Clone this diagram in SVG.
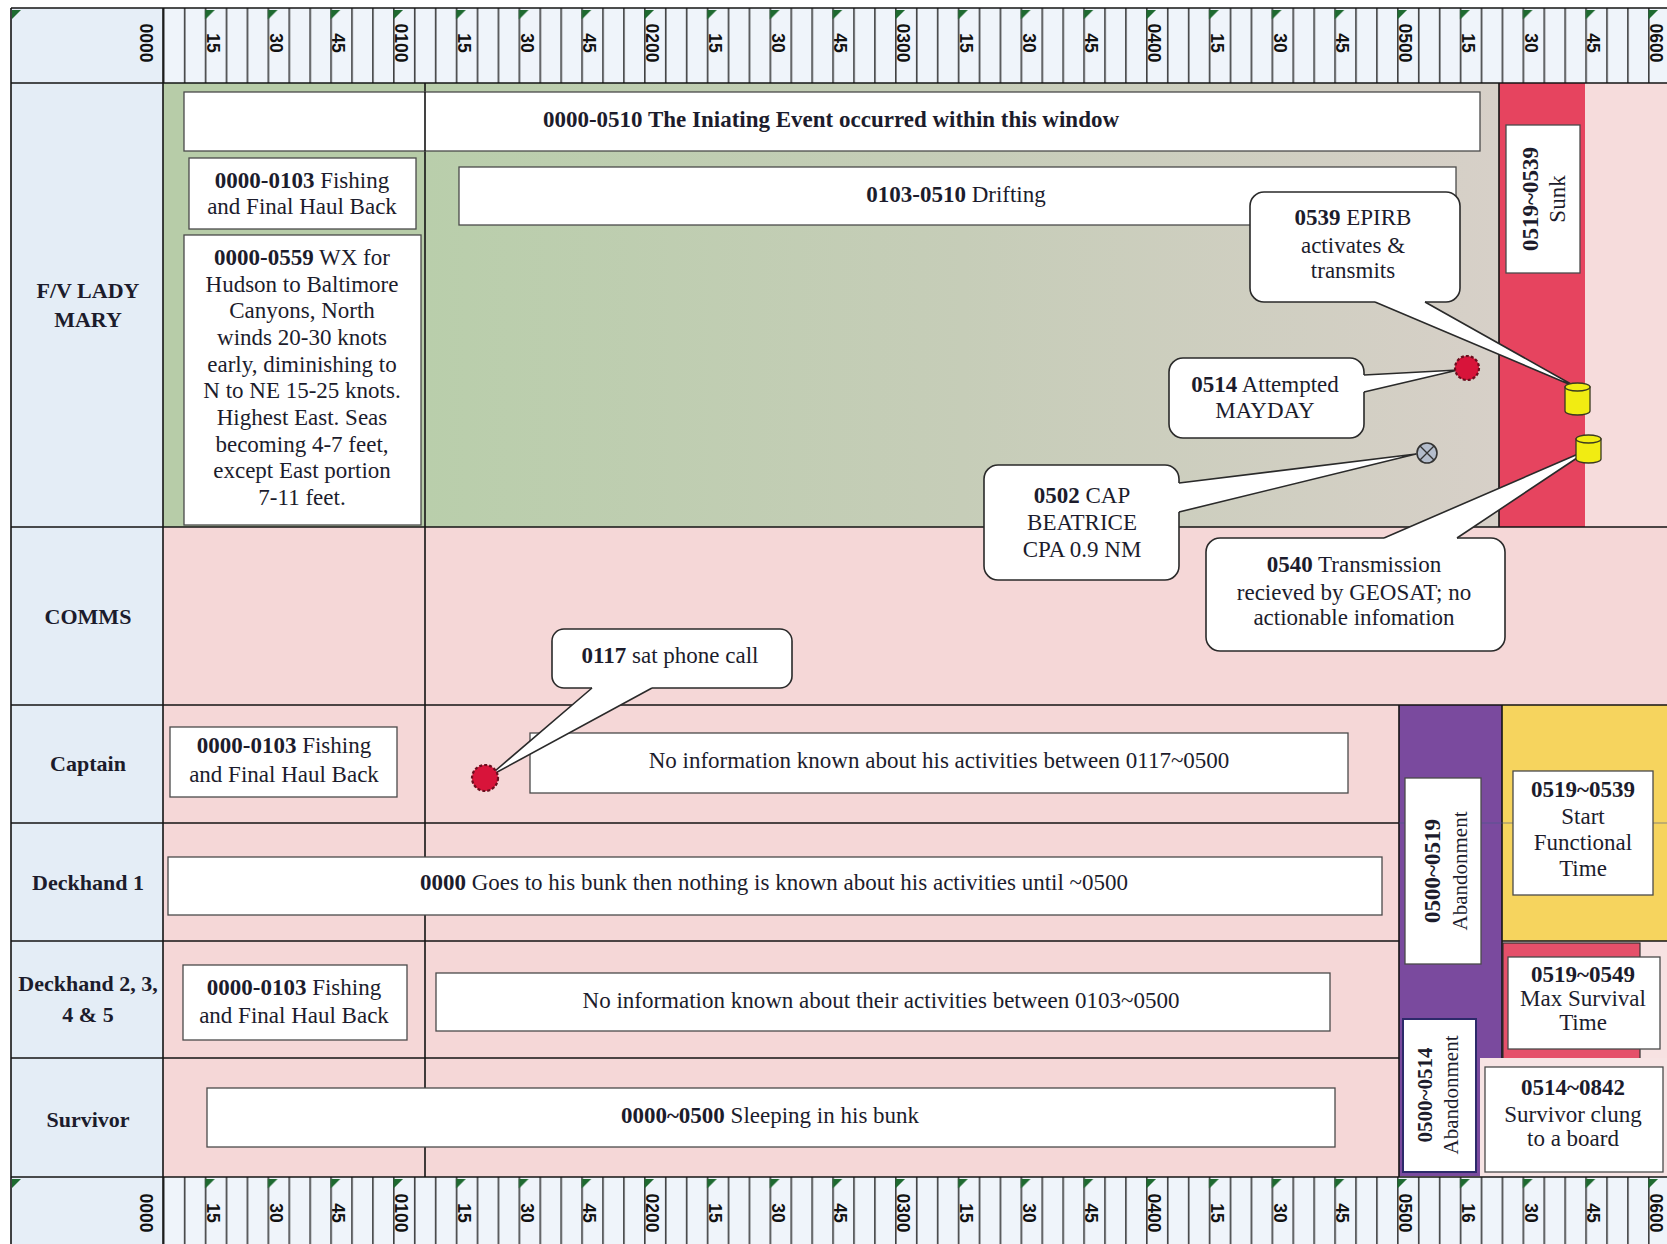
<svg xmlns="http://www.w3.org/2000/svg" width="1667" height="1244" viewBox="0 0 1667 1244">
<defs>
<style>
.t{font-family:"Liberation Serif","Times New Roman",serif;font-size:23px;fill:#1c1c2c;text-anchor:middle}
.s21{font-size:21px}
.b{font-weight:bold}
.lbl{font-family:"Liberation Serif","Times New Roman",serif;font-size:22px;font-weight:bold;fill:#1c1c2c;text-anchor:middle}
.rl{font-family:"Liberation Sans",Arial,sans-serif;font-size:17.5px;font-weight:bold;fill:#111;text-anchor:middle}
.box{fill:#fff;stroke:#4a4a4a;stroke-width:1.3}
.co{fill:#fff;stroke:#2a2a2a;stroke-width:1.6}
.tf{fill:#fff;stroke:none}
.tl{fill:none;stroke:#2a2a2a;stroke-width:1.6;stroke-linejoin:round}
.grid{stroke:#151515;stroke-width:1.6;fill:none}
.flag{fill:#1e6a30}
.cyl{fill:#f1ec12;stroke:#3a3a20;stroke-width:1.3}
.dot{fill:#d8143a;stroke:#6b0f1f;stroke-width:2.2;stroke-dasharray:3 2}
</style>
<pattern id="tickP" patternUnits="userSpaceOnUse" x="142" y="0" width="20.9167" height="20"><rect x="0.2" y="0" width="1.3" height="20" fill="#141414"/></pattern>
<pattern id="flagP" patternUnits="userSpaceOnUse" x="142" y="0" width="62.75" height="1244"><polygon points="0.5,10 10,10 0.5,19.5" class="flag"/><polygon points="0.5,1179 10,1179 0.5,1188.5" class="flag"/></pattern>
<linearGradient id="fvGrad" x1="0" y1="0" x2="1" y2="0"><stop offset="0" stop-color="#b9ceab"/><stop offset="0.5" stop-color="#c6cdb8"/><stop offset="1" stop-color="#d7d0c8"/></linearGradient>
</defs>

<rect x="0" y="0" width="1667" height="1244" fill="#ffffff"/>

<g id="ruler-top">
<rect x="11" y="8" width="1656" height="75" fill="#eff4fa"/>
<rect x="11" y="8" width="152" height="75" fill="#e6eef7"/>
<rect x="162.5" y="8" width="1504.5" height="75" fill="url(#tickP)"/>
<rect x="162.5" y="9" width="1504.5" height="12" fill="url(#flagP)"/>
<polygon points="12,10 21,10 12,19" class="flag"/>
<text class="rl" transform="translate(140,43) rotate(90)">0000</text>
<text class="rl" transform="translate(206.75,43) rotate(90)">15</text>
<text class="rl" transform="translate(269.5,43) rotate(90)">30</text>
<text class="rl" transform="translate(332.25,43) rotate(90)">45</text>
<text class="rl" transform="translate(395,43) rotate(90)">0100</text>
<text class="rl" transform="translate(457.75,43) rotate(90)">15</text>
<text class="rl" transform="translate(520.5,43) rotate(90)">30</text>
<text class="rl" transform="translate(583.25,43) rotate(90)">45</text>
<text class="rl" transform="translate(646,43) rotate(90)">0200</text>
<text class="rl" transform="translate(708.75,43) rotate(90)">15</text>
<text class="rl" transform="translate(771.5,43) rotate(90)">30</text>
<text class="rl" transform="translate(834.25,43) rotate(90)">45</text>
<text class="rl" transform="translate(897,43) rotate(90)">0300</text>
<text class="rl" transform="translate(959.75,43) rotate(90)">15</text>
<text class="rl" transform="translate(1022.5,43) rotate(90)">30</text>
<text class="rl" transform="translate(1085.25,43) rotate(90)">45</text>
<text class="rl" transform="translate(1148,43) rotate(90)">0400</text>
<text class="rl" transform="translate(1210.75,43) rotate(90)">15</text>
<text class="rl" transform="translate(1273.5,43) rotate(90)">30</text>
<text class="rl" transform="translate(1336.25,43) rotate(90)">45</text>
<text class="rl" transform="translate(1399,43) rotate(90)">0500</text>
<text class="rl" transform="translate(1461.75,43) rotate(90)">15</text>
<text class="rl" transform="translate(1524.5,43) rotate(90)">30</text>
<text class="rl" transform="translate(1587.25,43) rotate(90)">45</text>
<text class="rl" transform="translate(1650,43) rotate(90)">0600</text>
</g>

<g id="ruler-bottom">
<rect x="11" y="1177" width="1656" height="67" fill="#eff4fa"/>
<rect x="11" y="1177" width="152" height="67" fill="#e6eef7"/>
<rect x="162.5" y="1177" width="1504.5" height="67" fill="url(#tickP)"/>
<rect x="162.5" y="1178" width="1504.5" height="12" fill="url(#flagP)"/>
<polygon points="12,1179 21,1179 12,1188" class="flag"/>
<text class="rl" transform="translate(140,1213) rotate(90)">0000</text>
<text class="rl" transform="translate(206.75,1213) rotate(90)">15</text>
<text class="rl" transform="translate(269.5,1213) rotate(90)">30</text>
<text class="rl" transform="translate(332.25,1213) rotate(90)">45</text>
<text class="rl" transform="translate(395,1213) rotate(90)">0100</text>
<text class="rl" transform="translate(457.75,1213) rotate(90)">15</text>
<text class="rl" transform="translate(520.5,1213) rotate(90)">30</text>
<text class="rl" transform="translate(583.25,1213) rotate(90)">45</text>
<text class="rl" transform="translate(646,1213) rotate(90)">0200</text>
<text class="rl" transform="translate(708.75,1213) rotate(90)">15</text>
<text class="rl" transform="translate(771.5,1213) rotate(90)">30</text>
<text class="rl" transform="translate(834.25,1213) rotate(90)">45</text>
<text class="rl" transform="translate(897,1213) rotate(90)">0300</text>
<text class="rl" transform="translate(959.75,1213) rotate(90)">15</text>
<text class="rl" transform="translate(1022.5,1213) rotate(90)">30</text>
<text class="rl" transform="translate(1085.25,1213) rotate(90)">45</text>
<text class="rl" transform="translate(1148,1213) rotate(90)">0400</text>
<text class="rl" transform="translate(1210.75,1213) rotate(90)">15</text>
<text class="rl" transform="translate(1273.5,1213) rotate(90)">30</text>
<text class="rl" transform="translate(1336.25,1213) rotate(90)">45</text>
<text class="rl" transform="translate(1399,1213) rotate(90)">0500</text>
<text class="rl" transform="translate(1461.75,1213) rotate(90)">16</text>
<text class="rl" transform="translate(1524.5,1213) rotate(90)">30</text>
<text class="rl" transform="translate(1587.25,1213) rotate(90)">45</text>
<text class="rl" transform="translate(1650,1213) rotate(90)">0600</text>
</g>

<g id="backgrounds">
<rect x="11" y="83" width="152" height="1094" fill="#e4edf6"/>
<rect x="163" y="83" width="262" height="444" fill="#b7cca8"/>
<rect x="425" y="83" width="1074" height="444" fill="url(#fvGrad)"/>
<rect x="1499" y="83" width="86" height="444" fill="#e6445f"/>
<rect x="1585" y="83" width="82" height="444" fill="#f6dcdc"/>
<rect x="163" y="527" width="1504" height="650" fill="#f5d7d7"/>
<rect x="1399" y="705" width="103" height="353" fill="#7a4a9e"/>
<rect x="1399" y="1019" width="81" height="157" fill="#7a4a9e"/>
<rect x="1502" y="705" width="165" height="236" fill="#f6d45e"/>
<rect x="1502" y="941" width="165" height="117" fill="#f7e2e2"/>
<rect x="1503" y="943" width="137" height="116" fill="#e5506a" stroke="#333" stroke-width="1.2"/>
<rect x="1480" y="1058" width="187" height="119" fill="#f7e4e4"/>
</g>

<g id="grid">
<path class="grid" d="M11,8 H1667 M11,83 H1667 M11,527 H1667 M11,705 H1667 M11,823 H1399 M11,941 H1399 M1502,941 H1667 M11,1058 H1399 M11,1177 H1667 M11,8 V1244 M163,8 V1244 M425,83 V1177 M1499,83 V527 M1399,705 V1177 M1502,705 V1058"/>
<path d="M1399,823 H1667" stroke="#4a5a8a" stroke-width="0.9" opacity="0.7" fill="none"/>
</g>

<g id="row-labels">
<text class="lbl" x="88" y="298">F/V LADY</text>
<text class="lbl" x="88" y="327">MARY</text>
<text class="lbl" x="88" y="624">COMMS</text>
<text class="lbl" x="88" y="771">Captain</text>
<text class="lbl" x="88" y="890">Deckhand 1</text>
<text class="lbl" x="88" y="991">Deckhand 2, 3,</text>
<text class="lbl" x="88" y="1022">4 &amp; 5</text>
<text class="lbl" x="88" y="1127">Survivor</text>
</g>

<g id="initiating-window">
<rect class="box" x="184" y="92" width="1296" height="59"/>
<line x1="425" y1="92" x2="425" y2="151" stroke="#151515" stroke-width="1.6"/>
<text class="t b" x="831" y="127">0000-0510 The Iniating Event occurred within this window</text>
</g>

<g id="fv-fishing">
<rect class="box" x="189" y="158" width="227" height="71"/>
<text class="t" x="302" y="188"><tspan class="b">0000-0103</tspan> Fishing</text>
<text class="t" x="302" y="214">and Final Haul Back</text>
</g>

<g id="fv-drifting">
<rect class="box" x="459" y="167" width="997" height="58"/>
<text class="t" x="956" y="202"><tspan class="b">0103-0510</tspan> Drifting</text>
</g>

<g id="fv-weather">
<rect class="box" x="184" y="235" width="237" height="290"/>
<text class="t" x="302" y="265"><tspan class="b">0000-0559</tspan> WX for</text>
<text class="t" x="302" y="292">Hudson to Baltimore</text>
<text class="t" x="302" y="318">Canyons, North</text>
<text class="t" x="302" y="345">winds 20-30 knots</text>
<text class="t" x="302" y="372">early, diminishing  to</text>
<text class="t" x="302" y="398">N to NE 15-25 knots.</text>
<text class="t" x="302" y="425">Highest  East.  Seas</text>
<text class="t" x="302" y="452">becoming 4-7 feet,</text>
<text class="t" x="302" y="478">except East portion</text>
<text class="t" x="302" y="505">7-11 feet.</text>
</g>

<g id="fv-sunk">
<rect class="box" x="1506" y="125" width="74" height="148"/>
<text class="t b" transform="translate(1538,199) rotate(-90)">0519~0539</text>
<text class="t" transform="translate(1565,199) rotate(-90)">Sunk</text>
</g>

<g id="callout-epirb">
<rect class="co" x="1250" y="192" width="210" height="110" rx="14"/>
<text class="t" x="1353" y="225"><tspan class="b">0539</tspan> EPIRB</text>
<text class="t" x="1353" y="253">activates &amp;</text>
<text class="t" x="1353" y="278">transmits</text>
</g>

<g id="callout-mayday">
<rect class="co" x="1169" y="358" width="195" height="80" rx="14"/>
<text class="t" x="1265" y="392"><tspan class="b">0514</tspan> Attempted</text>
<text class="t" x="1265" y="418">MAYDAY</text>
</g>

<g id="callout-cap-beatrice">
<rect class="co" x="984" y="465" width="195" height="115" rx="14"/>
<text class="t" x="1082" y="503"><tspan class="b">0502</tspan> CAP</text>
<text class="t" x="1082" y="530">BEATRICE</text>
<text class="t" x="1082" y="557">CPA 0.9 NM</text>
</g>

<g id="callout-geosat">
<rect class="co" x="1206" y="538" width="299" height="113" rx="14"/>
<text class="t" x="1354" y="572"><tspan class="b">0540</tspan> Transmission</text>
<text class="t" x="1354" y="600">recieved by GEOSAT;  no</text>
<text class="t" x="1354" y="625">actionable infomation</text>
</g>

<g id="captain-fishing">
<rect class="box" x="170" y="727" width="227" height="70"/>
<text class="t" x="284" y="753"><tspan class="b">0000-0103</tspan> Fishing</text>
<text class="t" x="284" y="782">and Final Haul Back</text>
</g>

<g id="captain-noinfo">
<rect class="box" x="530" y="733" width="818" height="60"/>
<text class="t" x="939" y="768">No information known about his activities between 0117~0500</text>
</g>

<g id="callout-satphone">
<rect class="co" x="552" y="629" width="240" height="59" rx="12"/>
<text class="t" x="670" y="663"><tspan class="b">0117</tspan> sat phone call</text>
</g>

<g id="deckhand1-bunk">
<rect class="box" x="168" y="857" width="1214" height="58"/>
<text class="t" x="774" y="890"><tspan class="b">0000</tspan> Goes to his bunk then nothing is known about his activities until ~0500</text>
</g>

<g id="deckhands-fishing">
<rect class="box" x="183" y="965" width="224" height="75"/>
<text class="t" x="294" y="995"><tspan class="b">0000-0103</tspan> Fishing</text>
<text class="t" x="294" y="1023">and Final Haul Back</text>
</g>

<g id="deckhands-noinfo">
<rect class="box" x="436" y="973" width="894" height="58"/>
<text class="t" x="881" y="1008">No information known about their activities between 0103~0500</text>
</g>

<g id="survivor-sleeping">
<rect class="box" x="207" y="1088" width="1128" height="59"/>
<text class="t" x="770" y="1123"><tspan class="b">0000~0500</tspan> Sleeping in his bunk</text>
</g>

<g id="abandonment-0500-0519">
<rect class="box" x="1405" y="778" width="76" height="186"/>
<text class="t b" transform="translate(1440,871) rotate(-90)">0500~0519</text>
<text class="t s21" transform="translate(1467,871) rotate(-90)">Abandonment</text>
</g>

<g id="abandonment-0500-0514">
<rect x="1403" y="1019" width="73" height="153" fill="#fff" stroke="#2d2a6a" stroke-width="2"/>
<text class="t b s21" transform="translate(1432,1095) rotate(-90)">0500~0514</text>
<text class="t s21" transform="translate(1458,1095) rotate(-90)">Abandonment</text>
</g>

<g id="start-functional-time">
<rect class="box" x="1513" y="771" width="140" height="124"/>
<text class="t b" x="1583" y="797">0519~0539</text>
<text class="t" x="1583" y="824">Start</text>
<text class="t" x="1583" y="850">Functional</text>
<text class="t" x="1583" y="876">Time</text>
</g>

<g id="max-survival-time">
<rect class="box" x="1508" y="957" width="152" height="92"/>
<text class="t b" x="1583" y="982">0519~0549</text>
<text class="t" x="1583" y="1006">Max Survival</text>
<text class="t" x="1583" y="1030">Time</text>
</g>

<g id="survivor-clung">
<rect class="box" x="1485" y="1067" width="178" height="105"/>
<text class="t b" x="1573" y="1095">0514~0842</text>
<text class="t" x="1573" y="1122">Survivor clung</text>
<text class="t" x="1573" y="1146">to a board</text>
</g>

<g id="connectors">
<polygon class="tf" points="1375,300 1425,300 1425,302 1578,388 1375,302"/>
<polyline class="tl" points="1375,302 1578,388 1425,302"/>
<polygon class="tf" points="1362,375 1362,392 1364,392 1458,370 1364,375"/>
<polyline class="tl" points="1364,375 1458,370 1364,392"/>
<polygon class="tf" points="1177,483 1177,512 1179,512 1416,454 1179,483"/>
<polyline class="tl" points="1179,483 1416,454 1179,512"/>
<polygon class="tf" points="1384,540 1457,540 1457,538 1592,448 1384,538"/>
<polyline class="tl" points="1384,538 1592,448 1457,538"/>
<polygon class="tf" points="592,686 652,686 652,688 488,777 592,688"/>
<polyline class="tl" points="592,688 488,777 652,688"/>
</g>

<g id="marker-satphone-dot">
<circle class="dot" cx="485" cy="778" r="13"/>
</g>
<g id="marker-mayday-dot">
<circle class="dot" cx="1467" cy="368" r="12"/>
</g>
<g id="marker-cap-beatrice">
<circle cx="1427" cy="453" r="10" fill="#b4bdcc" stroke="#333" stroke-width="1.6"/>
<path d="M1420,446 L1434,460 M1434,446 L1420,460" stroke="#333" stroke-width="1.4"/>
</g>
<g id="marker-epirb-0539">
<path class="cyl" d="M1565,387 V411 A12.5,4 0 0 0 1590,411 V387 Z"/>
<ellipse class="cyl" cx="1577.5" cy="387" rx="12.5" ry="4"/>
</g>
<g id="marker-epirb-0540">
<path class="cyl" d="M1576,439 V459 A12.5,4 0 0 0 1601,459 V439 Z"/>
<ellipse class="cyl" cx="1588.5" cy="439" rx="12.5" ry="4"/>
</g>
</svg>
